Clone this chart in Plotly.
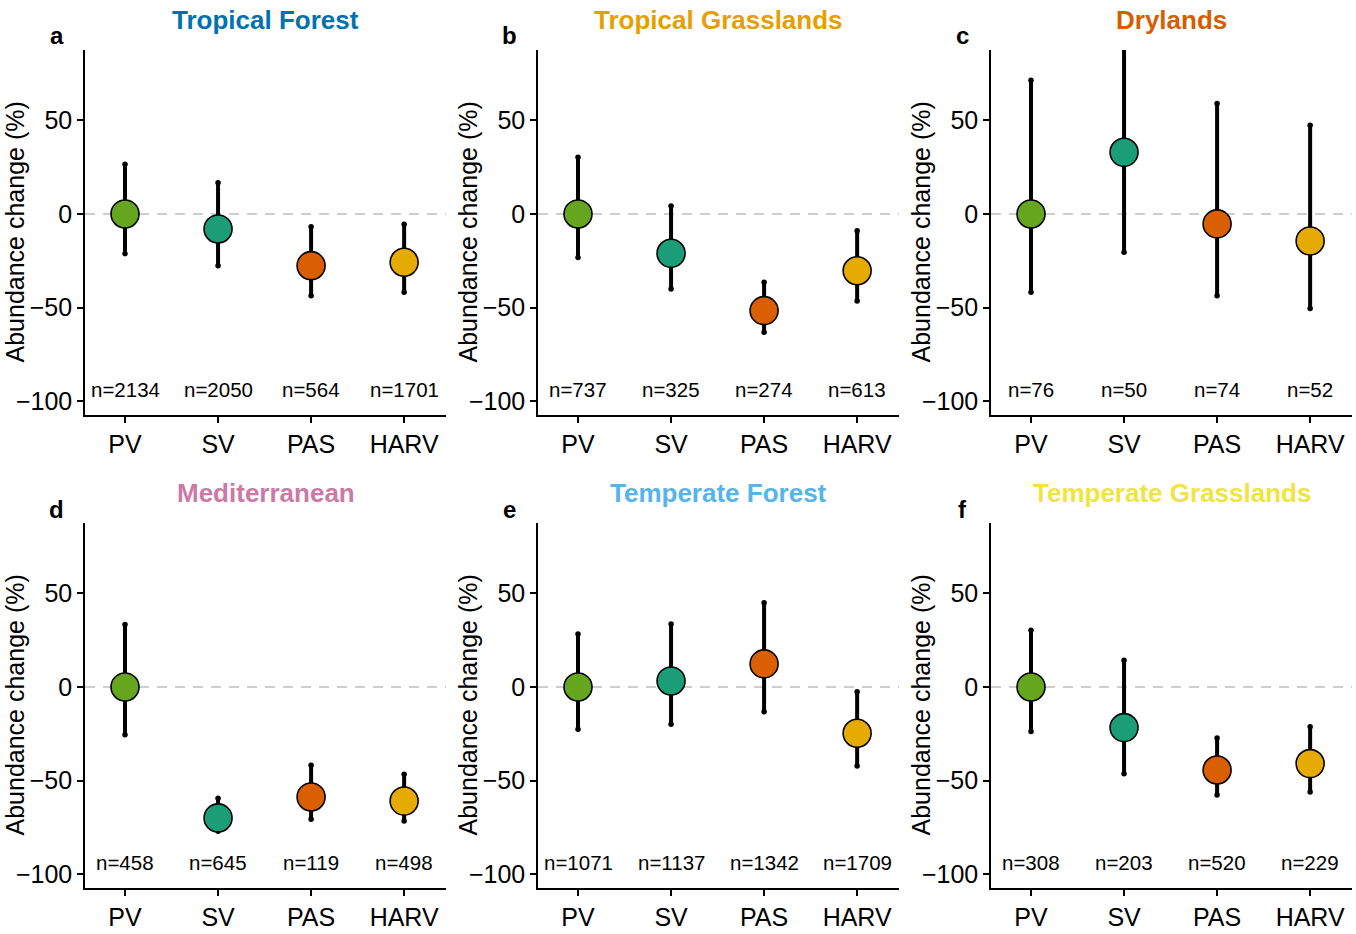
import plotly.graph_objects as go

categories = ["PV", "SV", "PAS", "HARV"]
cat_colors = ["#66A61E", "#1B9E77", "#D95F02", "#E6AB02"]

panel_letters = ["a", "b", "c", "d", "e", "f"]
biomes = ["Tropical Forest", "Tropical Grasslands", "Drylands",
          "Mediterranean", "Temperate Forest", "Temperate Grasslands"]
biome_colors = ["#0072B2", "#E69F00", "#D55E00", "#CC79A7", "#56B4E9", "#F0E442"]

# estimates, lower and upper limits, sample sizes (per panel)
est_a = [0, -8.0, -27.6, -25.8]
lo_a = [-21.2, -27.6, -43.6, -41.8]
hi_a = [26.5, 16.7, -6.8, -5.5]
n_a = [2134, 2050, 564, 1701]

est_b = [0, -21.0, -51.6, -30.3]
lo_b = [-23.3, -40.0, -63.2, -46.4]
hi_b = [30.3, 4.3, -36.5, -8.9]
n_b = [737, 325, 274, 613]

est_c = [0, 32.9, -5.3, -14.4]
lo_c = [-41.8, -20.5, -43.6, -50.5]
hi_c = [71.4, 95.0, 58.9, 47.4]
n_c = [76, 50, 74, 52]

est_d = [0, -69.9, -58.7, -60.9]
lo_d = [-25.5, -77.0, -70.6, -71.5]
hi_d = [33.3, -59.4, -41.8, -46.6]
n_d = [458, 645, 119, 498]

est_e = [0, 3.2, 12.3, -24.7]
lo_e = [-22.6, -19.9, -13.3, -42.2]
hi_e = [28.3, 33.6, 45.0, -2.5]
n_e = [1071, 1137, 1342, 1709]

est_f = [0, -21.7, -44.3, -40.9]
lo_f = [-23.8, -46.3, -57.7, -56.1]
hi_f = [30.3, 14.2, -27.2, -21.2]
n_f = [308, 203, 520, 229]

y_ticks = [-100, -50, 0, 50]
y_ticktext = ["\u2212100", "\u221250", "0", "50"]
y_title = "Abundance change (%)"

panels = [
    (est_a, lo_a, hi_a, n_a),
    (est_b, lo_b, hi_b, n_b),
    (est_c, lo_c, hi_c, n_c),
    (est_d, lo_d, hi_d, n_d),
    (est_e, lo_e, hi_e, n_e),
    (est_f, lo_f, hi_f, n_f),
]

W, H = 1356, 934
FONT = "Liberation Sans, Arial, Helvetica, sans-serif"

# pixel layout of plot areas
x_px = [(85, 446), (538, 899), (991, 1352)]
y_px = [(50, 415), (523, 888)]

fig = go.Figure()
annotations = []
shapes = []
layout_axes = {}

for i, (est, lo, hi, ns) in enumerate(panels):
    r, c = divmod(i, 3)
    idx = i + 1
    xa = "x" if idx == 1 else f"x{idx}"
    ya = "y" if idx == 1 else f"y{idx}"
    xname = "xaxis" if idx == 1 else f"xaxis{idx}"
    yname = "yaxis" if idx == 1 else f"yaxis{idx}"
    x0p, x1p = x_px[c]
    y0p, y1p = y_px[r]

    layout_axes[xname] = dict(
        domain=[x0p / W, x1p / W], anchor=ya, type="category",
        categoryorder="array", categoryarray=categories,
        range=[-0.43, 3.45], showline=True, linecolor="black", linewidth=1.6,
        ticks="outside", ticklen=6, tickwidth=1.6, tickcolor="black",
        showgrid=False, zeroline=False,
        tickfont=dict(size=25, color="black", family=FONT),
    )
    layout_axes[yname] = dict(
        domain=[1 - y1p / H, 1 - y0p / H], anchor=xa,
        range=[-107.3, 87.5], showline=True, linecolor="black", linewidth=1.6,
        ticks="outside", ticklen=6, tickwidth=1.6, tickcolor="black",
        showgrid=False, zeroline=False, tickvals=y_ticks, ticktext=y_ticktext,
        tickfont=dict(size=25, color="black", family=FONT),
    )

    # dashed zero line
    shapes.append(dict(type="line", xref=f"{xa} domain", yref=ya, x0=0, x1=1,
                       y0=0, y1=0, layer="below",
                       line=dict(color="#BEBEBE", width=1.6, dash="10px,8px")))

    # error bars
    lx, ly = [], []
    for cat, l, h in zip(categories, lo, hi):
        lx += [cat, cat, None]
        ly += [l, h, None]
    fig.add_trace(go.Scatter(x=lx, y=ly, mode="lines", xaxis=xa, yaxis=ya,
                             line=dict(color="black", width=4),
                             hoverinfo="skip", showlegend=False))
    ex, ey = [], []
    for cat, l, h in zip(categories, lo, hi):
        ex += [cat, cat]
        ey += [l, h]
    fig.add_trace(go.Scatter(x=ex, y=ey, mode="markers", xaxis=xa, yaxis=ya,
                             marker=dict(color="black", size=5.5),
                             cliponaxis=True, hoverinfo="skip", showlegend=False))
    # points
    fig.add_trace(go.Scatter(x=categories, y=est, mode="markers", xaxis=xa, yaxis=ya,
                             marker=dict(color=cat_colors, size=28,
                                         line=dict(color="black", width=1.6)),
                             cliponaxis=False, showlegend=False))

    # n labels
    for cat, n in zip(categories, ns):
        annotations.append(dict(x=cat, y=-93.5, xref=xa, yref=ya, text=f"n={n}",
                                showarrow=False, xanchor="center", yanchor="middle",
                                font=dict(size=20.5, color="black", family=FONT)))

    # biome title
    annotations.append(dict(x=(x0p + x1p) / 2 / W, y=1 - (y0p - 30) / H,
                            xref="paper", yref="paper", text=f"<b>{biomes[i]}</b>",
                            showarrow=False, xanchor="center", yanchor="middle",
                            font=dict(size=26, color=biome_colors[i], family=FONT)))
    # panel letter
    annotations.append(dict(x=(x0p - 28.5) / W, y=1 - (y0p - 14) / H,
                            xref="paper", yref="paper", text=f"<b>{panel_letters[i]}</b>",
                            showarrow=False, xanchor="center", yanchor="middle",
                            font=dict(size=24, color="black", family=FONT)))
    # y axis title
    annotations.append(dict(x=(x0p - 71) / W, y=1 - ((y0p + y1p) / 2 - 0) / H,
                            xref="paper", yref="paper", text=y_title, textangle=-90,
                            showarrow=False, xanchor="center", yanchor="middle",
                            font=dict(size=25, color="black", family=FONT)))

fig.update_layout(
    width=W, height=H, margin=dict(l=0, r=0, t=0, b=0),
    paper_bgcolor="white", plot_bgcolor="white", showlegend=False,
    annotations=annotations, shapes=shapes,
    font=dict(family=FONT, color="black"),
    hovermode=False,
    **layout_axes,
)

fig.write_html("out.html", config={"displayModeBar": False},
               post_script="document.body.style.margin='0px';document.body.style.overflow='hidden';")
